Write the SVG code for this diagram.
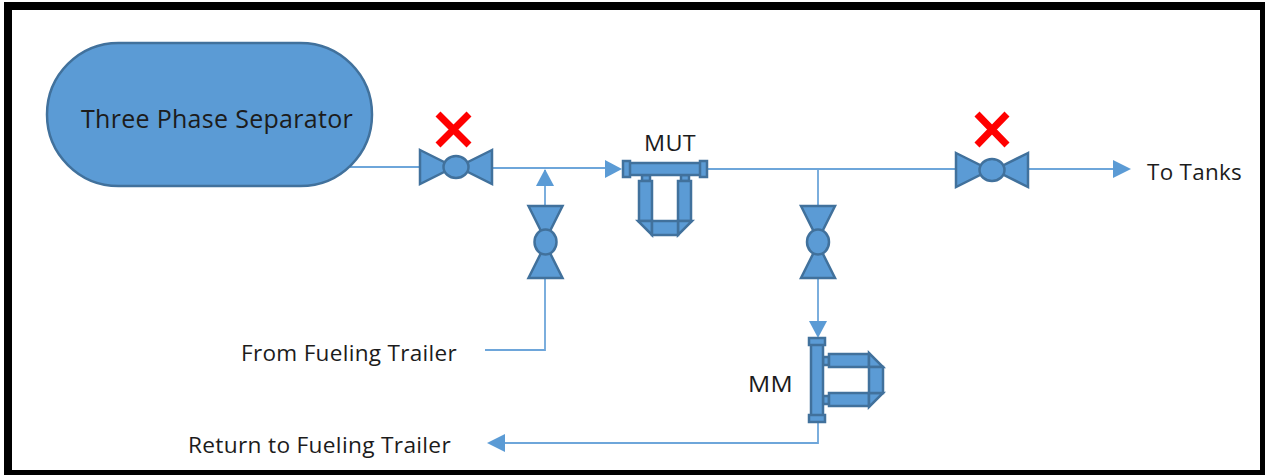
<svg xmlns="http://www.w3.org/2000/svg" width="1265" height="475" viewBox="0 0 1265 475">
<style>
.s{fill:#5b9bd5;stroke:#41719c;stroke-width:2.5}
.m{fill:#5b9bd5;stroke:#41719c;stroke-width:2.500}
.l{fill:none;stroke:#6ea6da;stroke-width:1.800}
.a{fill:#5b9bd5}
.x{fill:none;stroke:#ff0000;stroke-width:7}
text{font-family:"Open Sans","Liberation Sans",sans-serif;font-size:22.500px;letter-spacing:0.300px;fill:#1c1c1c}
</style>
<defs>
<g id="valveH"><path class="s" d="M-36,-17L-8,-3V3L-36,17ZM36,-17L8,-3V3L36,17Z"/><ellipse class="s" cx="0" cy="0" rx="12.500" ry="11"/></g>
<g id="valveV"><path class="s" d="M-17,-36L-3,-8H3L17,-36ZM-17,36L-3,8H3L17,36Z"/><ellipse class="s" cx="0" cy="0" rx="11" ry="12.500"/></g>
<g id="meter">
<rect class="m" x="21" y="6" width="8" height="6"/>
<rect class="m" x="60" y="6" width="8" height="6"/>
<rect class="m" x="6" y="-6" width="76" height="12"/>
<rect class="m" x="2" y="-8" width="7" height="16"/>
<rect class="m" x="79" y="-8" width="7" height="16"/>
<rect class="m" x="18" y="12" width="13" height="40"/>
<rect class="m" x="57" y="12" width="13" height="40"/>
<path class="m" d="M17,52H31V66ZM71,52H57V66Z"/>
<rect class="m" x="31" y="52" width="26" height="14"/>
</g>
</defs>
<rect x="0" y="0" width="1265" height="475" fill="#ffffff"/>
<g id="connectors">
<path class="l" d="M350,167H420M491,168H605M545,170V206M545,278V350H485M706,169H956M1027,169H1116M818,169V207M818,278V325M818,420V443H505"/>
<path class="a" d="M605,160L622,169L605,178Z"/>
<path class="a" d="M1113,160L1131,169L1113,178Z"/>
<path class="a" d="M536,186L545,169L554,186Z"/>
<path class="a" d="M809,321H827L818,338Z"/>
<path class="a" d="M505,434V452L487,443Z"/>
</g>
<g id="separator"><rect class="s" x="47" y="43" width="325" height="143" rx="71.500" ry="71.500"/><text x="81" y="128" style="font-size:25.500px" textLength="272" lengthAdjust="spacingAndGlyphs">Three Phase Separator</text></g>
<g id="valve-1"><use href="#valveH" x="456" y="167"/></g>
<g id="valve-2"><use href="#valveH" x="992" y="170"/></g>
<g id="valve-3"><use href="#valveV" x="545.500" y="242"/></g>
<g id="valve-4"><use href="#valveV" x="818" y="242"/></g>
<g id="cross-1"><path class="x" d="M438,114L469,145M469,114L438,145"/></g>
<g id="cross-2"><path class="x" d="M977,114L1007,145M1007,114L977,145"/></g>
<g id="mut"><use href="#meter" x="621" y="169"/><text x="644" y="151" textLength="52" lengthAdjust="spacingAndGlyphs">MUT</text></g>
<g id="mm"><use href="#meter" transform="translate(817,336) rotate(90) scale(1,-1)"/><text x="748" y="392" textLength="45" lengthAdjust="spacingAndGlyphs">MM</text></g>
<g id="to-tanks"><text x="1147" y="180" textLength="95" lengthAdjust="spacingAndGlyphs">To Tanks</text></g>
<g id="from-trailer"><text x="241" y="361" textLength="216" lengthAdjust="spacingAndGlyphs">From Fueling Trailer</text></g>
<g id="return-trailer"><text x="188" y="453" textLength="263" lengthAdjust="spacingAndGlyphs">Return to Fueling Trailer</text></g>
<path id="frame" fill="#000000" fill-rule="evenodd" d="M4,2H1265V475H4ZM12,10V470H1260V10Z"/>
</svg>
